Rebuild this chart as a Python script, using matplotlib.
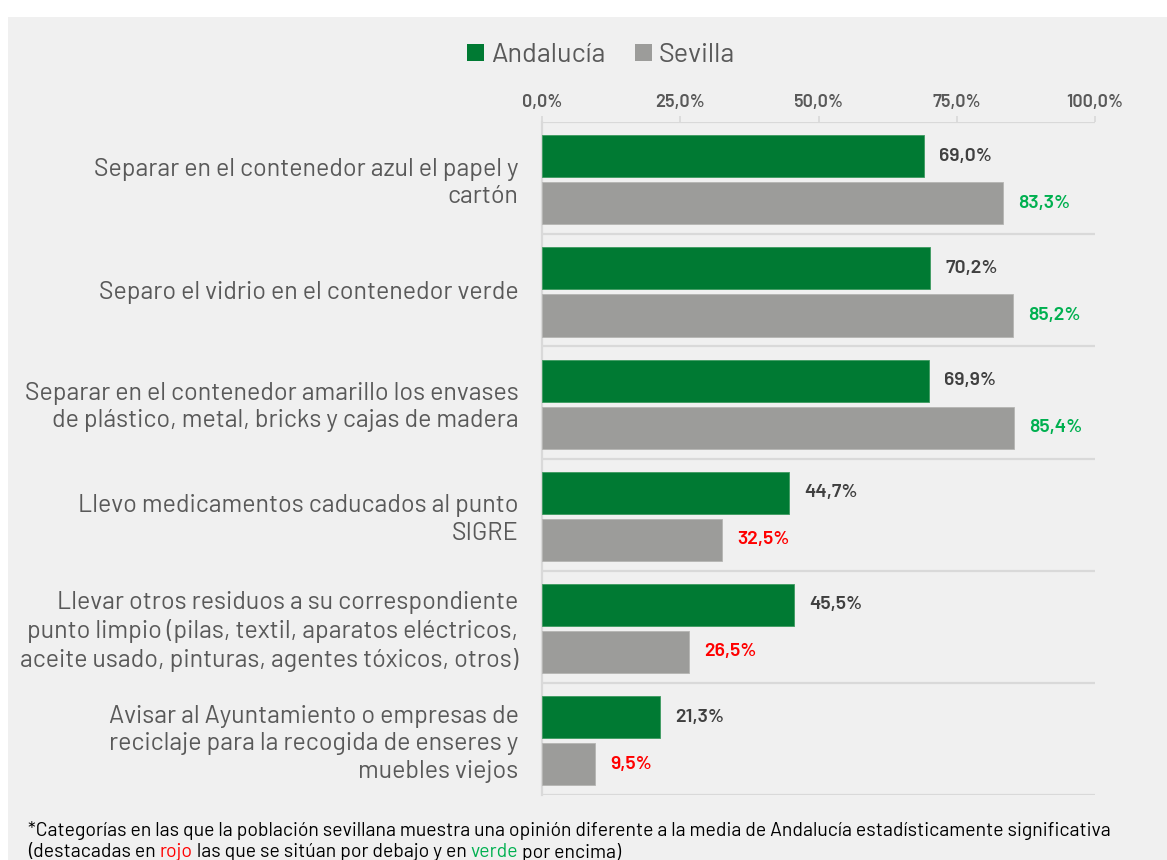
import matplotlib
matplotlib.use('Agg')
import matplotlib.pyplot as plt
from matplotlib.patches import Rectangle, Patch
import numpy as np

plt.rcParams['font.family'] = ['Barlow', 'DejaVu Sans']

# 数据
categories = [
    "Separar en el contenedor azul el papel y\ncartón",
    "Separo el vidrio en el contenedor verde",
    "Separar en el contenedor amarillo los envases\nde plástico, metal, bricks y cajas de madera",
    "Llevo medicamentos caducados al punto\nSIGRE",
    "Llevar otros residuos a su correspondiente\npunto limpio (pilas, textil, aparatos eléctricos,\naceite usado, pinturas, agentes tóxicos, otros)",
    "Avisar al Ayuntamiento o empresas de\nreciclaje para la recogida de enseres y\nmuebles viejos",
]
andalucia = [69.0, 70.2, 69.9, 44.7, 45.5, 21.3]
sevilla = [83.3, 85.2, 85.4, 32.5, 26.5, 9.5]
# 1 = 高于安达卢西亚（绿色）, -1 = 低于（红色）
significance = [1, 1, 1, -1, -1, -1]
ticks = [0, 25, 50, 75, 100]

green = '#007a33'
grey = '#9c9c9a'
text_grey = '#595959'
sig_colors = {1: '#00b050', -1: '#ff0000'}

fig = plt.figure(figsize=(11.67, 8.6), dpi=100)
fig.patch.set_facecolor('white')
fig.patches.append(Rectangle((8 / 1167, 0), 1, 1 - 17 / 860, transform=fig.transFigure,
                             facecolor='#f0f0f0', edgecolor='none', zorder=-10))

ax = fig.add_axes([542 / 1167, 65 / 860, 553 / 1167, 673 / 860])
ax.set_facecolor('none')

y = np.arange(len(categories))
h = 0.375
off = 0.21
ax.barh(y - off + 0.015, andalucia, h, color=green, edgecolor='#3d9a5f', linewidth=0.6, zorder=3)
ax.barh(y + off + 0.015, sevilla, h, color=grey, edgecolor='#b5b5b3', linewidth=0.6, zorder=3)

# 数值标签
for i in range(len(categories)):
    ax.annotate(f'{andalucia[i]:.1f}%'.replace('.', ','), xy=(andalucia[i], y[i] - off + 0.015),
                xytext=(11, 0), textcoords='offset points', ha='left', va='center',
                fontsize=14, fontweight=600, color='#404040')
    ax.annotate(f'{sevilla[i]:.1f}%'.replace('.', ','), xy=(sevilla[i], y[i] + off + 0.015),
                xytext=(11, 0), textcoords='offset points', ha='left', va='center',
                fontsize=14, fontweight=600, color=sig_colors[significance[i]])

# 分隔线
for b in np.arange(-0.5, len(categories), 1.0):
    ax.axhline(b, color='#d9d9d9', linewidth=1.6, zorder=1)

ax.set_xlim(0, 100)
ax.set_ylim(len(categories) - 0.5, -0.5)
ax.xaxis.tick_top()
ax.set_xticks(ticks)
ax.set_xticklabels([f'{t:.1f}%'.replace('.', ',') for t in ticks], fontsize=13,
                   fontweight=600, color=text_grey)
ax.tick_params(axis='x', length=4, width=1.2, color='#d9d9d9', pad=4)
ax.set_yticks(y)
ax.set_yticklabels(categories, fontsize=18, color=text_grey, linespacing=1.25)
ax.tick_params(axis='y', length=0, pad=17)
for spine in ['right', 'bottom', 'top']:
    ax.spines[spine].set_visible(False)
ax.spines['left'].set_color('#d9d9d9')
ax.spines['left'].set_linewidth(1.6)

# 图例
handles = [Patch(facecolor=green, label='Andalucía'), Patch(facecolor=grey, label='Sevilla')]
fig.legend(handles=handles, loc='center', bbox_to_anchor=(601 / 1167, 1 - 55 / 860), ncol=2,
           frameon=False, fontsize=19.5, labelcolor=text_grey, handlelength=0.62,
           handleheight=0.62, handletextpad=0.25, columnspacing=1.1)

# 脚注（分段着色）
fig.canvas.draw()
renderer = fig.canvas.get_renderer()
fig.text(28 / 1167, 1 - 831 / 860, '*Categorías en las que la población sevillana muestra una opinión '
         'diferente a la media de Andalucía estadísticamente significativa',
         fontsize=14, color='black', va='center')
parts = [('(destacadas en ', 'black'), ('rojo', '#ff0000'),
         (' las que se sitúan por debajo y en ', 'black'), ('verde', '#00b050'),
         (' por encima)', 'black')]
x0 = 28 / 1167
for s, c in parts:
    t = fig.text(x0, 1 - 852 / 860, s, fontsize=14, color=c, va='center')
    bb = t.get_window_extent(renderer)
    x0 += bb.width / fig.bbox.width

fig.savefig('out.png', dpi=100)
